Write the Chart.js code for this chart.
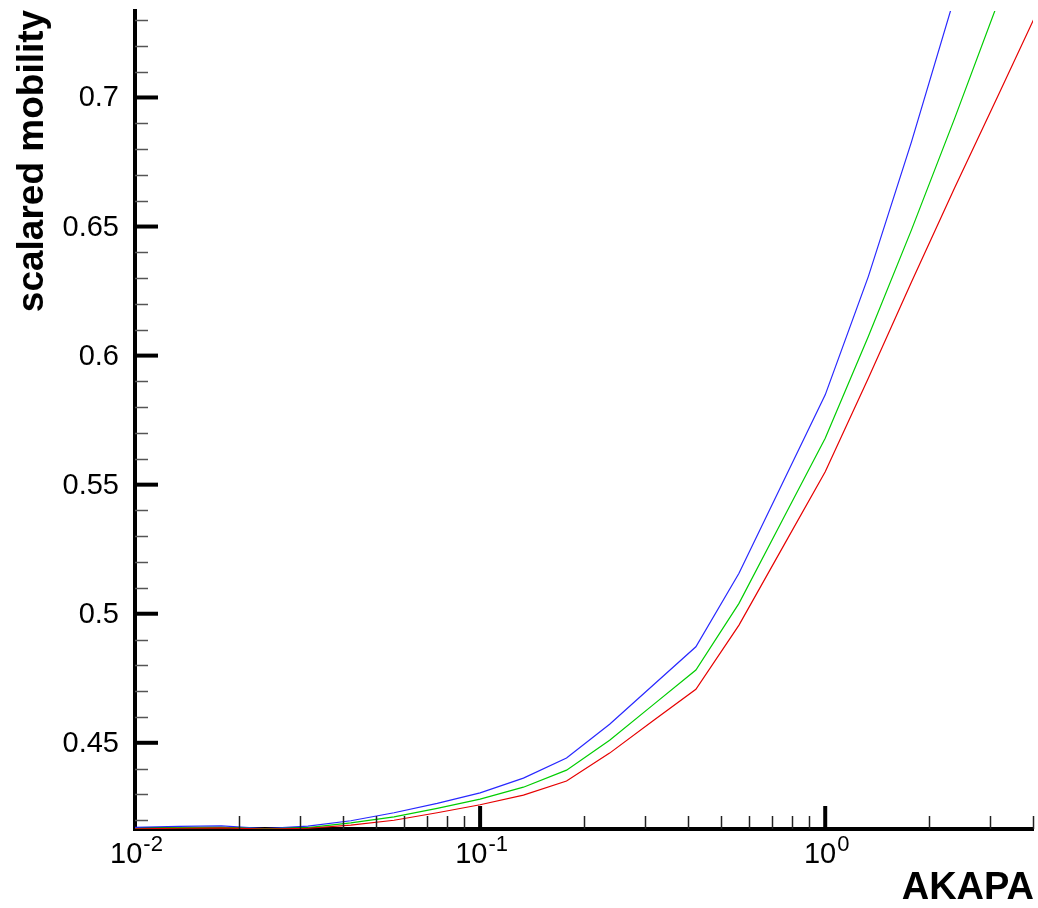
<!DOCTYPE html>
<html>
<head>
<meta charset="utf-8">
<script src="https://cdn.jsdelivr.net/npm/chart.js@4.4.1/dist/chart.umd.min.js"></script>
<style>
  html, body { margin: 0; padding: 0; background: #fff; }
  #wrap { width: 1038px; height: 908px; }
</style>
</head>
<body>
<div id="wrap"><canvas id="chart1" width="1038" height="908"></canvas></div>
<script>
// AKAPA sample points (log grid, ratio 4/3)
const akapa = [0.01, 0.0134, 0.0178, 0.0238, 0.0317, 0.0422, 0.0563, 0.0751, 0.1, 0.1335, 0.178,
  0.2373, 0.3164, 0.4219, 0.5625, 0.75, 1.0, 1.333, 1.778, 2.37, 3.16, 4.21];

// scalared mobility for the three runs
const mobilityBlue = [0.4172, 0.4176, 0.4178, 0.4168, 0.4177, 0.4198, 0.4229, 0.4265, 0.4306, 0.4363, 0.4441,
  0.4572, 0.4722, 0.4872, 0.5157, 0.5503, 0.5848, 0.6306, 0.6828, 0.7388];
const mobilityGreen = [0.4168, 0.4171, 0.4172, 0.4167, 0.4171, 0.4190, 0.4213, 0.4246, 0.4282, 0.4328, 0.4394,
  0.4510, 0.4646, 0.4782, 0.5040, 0.5360, 0.5680, 0.6074, 0.6487, 0.6918, 0.7365];
const mobilityRed = [0.4167, 0.4169, 0.4170, 0.4166, 0.4169, 0.4181, 0.4200, 0.4229, 0.4260, 0.4297, 0.4352,
  0.4460, 0.4584, 0.4707, 0.4956, 0.5253, 0.5550, 0.5912, 0.6285, 0.6649, 0.7004, 0.7360];

// axis ranges and tick marks
const xRange = [0.01, 4];
const yRange = [0.4166, 0.7335];
const xMajorTicks = [0.1, 1];
const xMinorTicks = [0.02, 0.03, 0.04, 0.05, 0.06, 0.07, 0.08, 0.09,
  0.2, 0.3, 0.4, 0.5, 0.6, 0.7, 0.8, 0.9, 2, 3, 4];
const xTickLabels = [{ v: 0.01, exp: '-2' }, { v: 0.1, exp: '-1' }, { v: 1, exp: '0' }];
const yMajorTicks = [0.45, 0.5, 0.55, 0.6, 0.65, 0.7];
const yMinorTicks = [0.42, 0.43, 0.44, 0.46, 0.47, 0.48, 0.49, 0.51, 0.52, 0.53, 0.54,
  0.56, 0.57, 0.58, 0.59, 0.61, 0.62, 0.63, 0.64, 0.66, 0.67, 0.68, 0.69, 0.71, 0.72, 0.73];
const yTickLabels = ['0.45', '0.5', '0.55', '0.6', '0.65', '0.7'];

const FONT = '"Liberation Sans", Arial, Helvetica, sans-serif';

function toPoints(ys) {
  return ys.map((y, i) => ({ x: akapa[i], y: y }));
}

// tick marks pointing into the plot, tick labels and axis titles
const axisDecor = {
  id: 'axisDecor',
  afterDraw(chart) {
    const ctx = chart.ctx;
    const area = chart.chartArea;
    const xs = chart.scales.x;
    const ys = chart.scales.y;
    ctx.save();
    ctx.lineCap = 'butt';

    // y ticks
    yMinorTicks.forEach(v => {
      const p = Math.round(ys.getPixelForValue(v)) + 0.5;
      ctx.strokeStyle = '#555';
      ctx.lineWidth = 1.5;
      ctx.beginPath(); ctx.moveTo(area.left, p); ctx.lineTo(area.left + 13, p); ctx.stroke();
    });
    yMajorTicks.forEach(v => {
      const p = ys.getPixelForValue(v);
      ctx.strokeStyle = '#000';
      ctx.lineWidth = 4;
      ctx.beginPath(); ctx.moveTo(area.left, p); ctx.lineTo(area.left + 23, p); ctx.stroke();
    });

    // x ticks
    xMinorTicks.forEach(v => {
      const p = Math.round(xs.getPixelForValue(v)) + 0.5;
      ctx.strokeStyle = '#222';
      ctx.lineWidth = 1.5;
      ctx.beginPath(); ctx.moveTo(p, area.bottom); ctx.lineTo(p, area.bottom - 13); ctx.stroke();
    });
    xMajorTicks.forEach(v => {
      const p = xs.getPixelForValue(v);
      ctx.strokeStyle = '#000';
      ctx.lineWidth = 4;
      ctx.beginPath(); ctx.moveTo(p, area.bottom); ctx.lineTo(p, area.bottom - 23); ctx.stroke();
    });

    ctx.fillStyle = '#000';

    // y tick labels
    ctx.font = '29px ' + FONT;
    ctx.textAlign = 'right';
    ctx.textBaseline = 'middle';
    yMajorTicks.forEach((v, i) => {
      ctx.fillText(yTickLabels[i], 119, ys.getPixelForValue(v) + 1);
    });

    // x tick labels: 10 with a raised exponent
    ctx.textAlign = 'left';
    ctx.textBaseline = 'alphabetic';
    xTickLabels.forEach(t => {
      const p = xs.getPixelForValue(t.v);
      ctx.font = '29px ' + FONT;
      const wBase = ctx.measureText('10').width;
      ctx.font = '22px ' + FONT;
      const wExp = ctx.measureText(t.exp).width;
      const x0 = p - (wBase + wExp) / 2 + 1;
      ctx.font = '29px ' + FONT;
      ctx.fillText('10', x0, 863);
      ctx.font = '22px ' + FONT;
      ctx.fillText(t.exp, x0 + wBase + 1, 851);
    });

    // axis titles
    ctx.font = 'bold 38px ' + FONT;
    ctx.textAlign = 'right';
    ctx.fillText('AKAPA', 1034, 899);

    ctx.translate(43, 161);
    ctx.rotate(-Math.PI / 2);
    ctx.font = 'bold 37px ' + FONT;
    ctx.textAlign = 'center';
    ctx.fillText('scalared mobility', 0, 0);
    ctx.restore();
  }
};

new Chart(document.getElementById('chart1').getContext('2d'), {
  type: 'line',
  data: {
    datasets: [
      { label: 'red', data: toPoints(mobilityRed), borderColor: 'rgb(230,0,0)' },
      { label: 'green', data: toPoints(mobilityGreen), borderColor: 'rgb(0,205,0)' },
      { label: 'blue', data: toPoints(mobilityBlue), borderColor: 'rgb(40,40,255)' }
    ].map(d => Object.assign(d, { borderWidth: 1.2, pointRadius: 0, tension: 0, fill: false }))
  },
  options: {
    responsive: false,
    animation: false,
    events: [],
    layout: { padding: { top: 11, right: 5, left: 0, bottom: 0 } },
    plugins: { legend: { display: false }, tooltip: { enabled: false } },
    scales: {
      x: {
        type: 'logarithmic',
        min: xRange[0],
        max: xRange[1],
        grid: { display: false },
        ticks: { display: false },
        border: { display: true, width: 4, color: '#000' },
        afterFit: scale => { scale.height = 79; }
      },
      y: {
        type: 'linear',
        min: yRange[0],
        max: yRange[1],
        grid: { display: false },
        ticks: { display: false },
        border: { display: true, width: 4, color: '#000' },
        afterFit: scale => { scale.width = 135; }
      }
    }
  },
  plugins: [axisDecor]
});
</script>
</body>
</html>
